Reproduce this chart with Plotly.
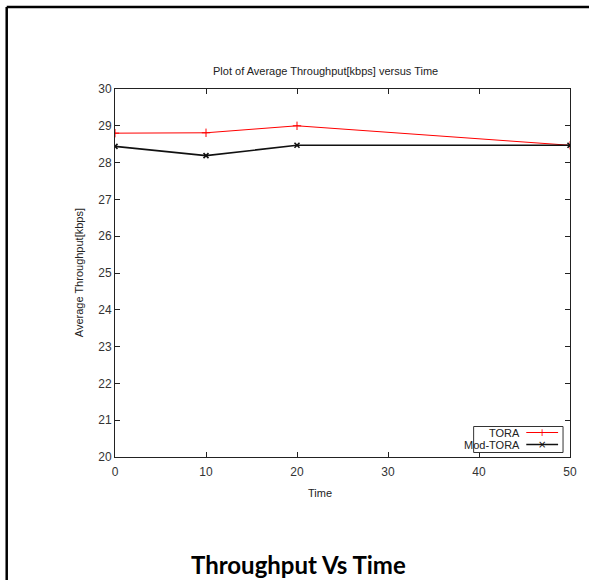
import plotly.graph_objects as go

time = [0, 10, 20, 50]
tora = [28.80, 28.81, 29.0, 28.47]
mod_tora = [28.44, 28.19, 28.47, 28.47]
x_ticks = [0, 10, 20, 30, 40, 50]
y_ticks = [20, 21, 22, 23, 24, 25, 26, 27, 28, 29, 30]
series_names = ["TORA", "Mod-TORA"]

W, H = 589, 580
L, R, T, B = 115, 573, 89, 457

def px(x):
    return (x - L) / (R - L)

def py(y):
    return (B - y) / (B - T)

RED = "#ff0000"
BLK = "#111111"
FONT = "Liberation Sans Narrow, Liberation Sans, Arial"

fig = go.Figure()
fig.add_trace(go.Scatter(
    x=time, y=tora, name=series_names[0], mode="lines+markers",
    line=dict(color=RED, width=1),
    marker=dict(symbol="cross-thin", size=6, line=dict(color=RED, width=1)),
))
fig.add_trace(go.Scatter(
    x=time, y=mod_tora, name=series_names[1], mode="lines+markers",
    line=dict(color=BLK, width=1.6),
    marker=dict(symbol="x-thin", size=5, line=dict(color=BLK, width=1.6)),
))

axis_common = dict(
    showline=True, linecolor="#222222", linewidth=1, mirror="ticks",
    ticks="inside", ticklen=5, tickcolor="#222222", showgrid=False, zeroline=False,
    tickfont=dict(family=FONT, size=12, color="#333333"),
)

fig.update_layout(
    width=W, height=H,
    margin=dict(l=L, r=W - R, t=T, b=H - B),
    paper_bgcolor="white", plot_bgcolor="white",
    showlegend=False,
    xaxis=dict(range=[0, 50], tickvals=x_ticks, ticklabelstandoff=4, **axis_common),
    yaxis=dict(range=[20, 30], tickvals=y_ticks, **axis_common),
)

font_small = dict(family=FONT, size=11, color="#222222")
fig.add_annotation(text="Plot of Average Throughput[kbps] versus Time", xref="paper", yref="paper",
                   x=px(327), y=py(71), showarrow=False, font=font_small, xanchor="center", yanchor="middle")
fig.add_annotation(text="Time", xref="paper", yref="paper",
                   x=px(321), y=py(493), showarrow=False, font=font_small, xanchor="center", yanchor="middle")
fig.add_annotation(text="Average Throughput[kbps]", xref="paper", yref="paper", textangle=-90,
                   x=px(79), y=py(273), showarrow=False, font=font_small, xanchor="center", yanchor="middle")
fig.add_annotation(text="<b>Throughput Vs Time</b>", xref="paper", yref="paper",
                   x=px(300), y=py(564), showarrow=False,
                   font=dict(family="Lato, Open Sans, Arial", size=24, color="#000000"),
                   xanchor="center", yanchor="middle")

# Manual gnuplot-style legend (text right, sample to the right)
fig.add_shape(type="rect", xref="paper", yref="paper", x0=px(476), x1=px(566), y0=py(452.5), y1=py(426.5),
              line=dict(color="#333333", width=1), fillcolor="white", layer="above")
leg_rows = [(series_names[0], 432.5, RED, "+", 1), (series_names[1], 444.5, BLK, "×", 1.6)]
for name, yy, col, sym, lw in leg_rows:
    fig.add_annotation(text=name, xref="paper", yref="paper", x=px(525), y=py(yy),
                       showarrow=False, font=dict(family=FONT, size=11, color="#222222"),
                       xanchor="right", yanchor="middle")
    fig.add_shape(type="line", xref="paper", yref="paper", x0=px(529), x1=px(561), y0=py(yy), y1=py(yy),
                  line=dict(color=col, width=lw), layer="above")
    fig.add_annotation(text=sym, xref="paper", yref="paper", x=px(545), y=py(yy),
                       showarrow=False, font=dict(family="DejaVu Sans", size=10, color=col),
                       xanchor="center", yanchor="middle")

# Outer frame (top and left lines)
fig.add_shape(type="line", xref="paper", yref="paper", x0=px(6), x1=px(620), y0=py(7), y1=py(7),
              line=dict(color="black", width=2.5))
fig.add_shape(type="line", xref="paper", yref="paper", x0=px(6), x1=px(6), y0=py(7), y1=py(600),
              line=dict(color="black", width=2.5))

fig.write_html("out.html", config={"displayModeBar": False, "responsive": False},
               post_script="document.body.style.margin='0';document.body.style.padding='0';document.body.style.overflow='hidden';")
